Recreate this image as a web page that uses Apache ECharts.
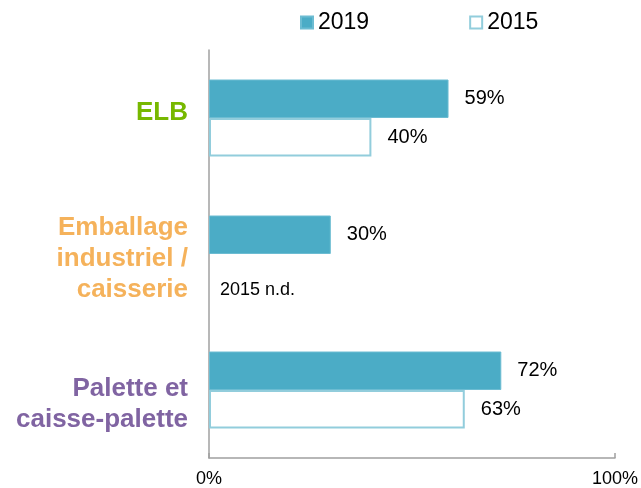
<!DOCTYPE html>
<html><head><meta charset="utf-8">
<script src="https://cdn.jsdelivr.net/npm/echarts@6/dist/echarts.min.js"></script>
<style>html,body{margin:0;padding:0;background:#fff}#c{width:641px;height:488px}</style>
</head><body><div id="c"></div>
<script>
const categories = ['ELB', 'Emballage\nindustriel /\ncaisserie', 'Palette et\ncaisse-palette'];
const categoryColors = ['#77b800', '#f5b25b', '#8064a2'];
const values2019 = [59, 30, 72];
const values2015 = [40, null, 63];
const naText = '2015 n.d.';
const xTicks = [0, 100];

const chart = echarts.init(document.getElementById('c'), null, {renderer: 'canvas'});
const FONT = 'Liberation Sans, Arial, sans-serif';

// per-category vertical nudge (px) of the label block
const nudges = [-5, 5, 14];
const rich = {};
categories.forEach((c, i) => {
  rich['t' + i] = {color: categoryColors[i], fontSize: 26, fontWeight: 'bold', fontFamily: FONT,
    lineHeight: 31, align: 'right'};
  rich['s' + i] = {fontSize: 1, lineHeight: Math.abs(nudges[i]) * 2, align: 'right'};
});

const data2015 = values2015.map(v => v === null
  ? {value: 0, itemStyle: {borderWidth: 0, color: 'rgba(0,0,0,0)'},
     label: {show: true, formatter: naText, fontSize: 18, distance: 11, offset: [0, 17]}}
  : v);

chart.setOption({
  animation: false,
  legend: {
    top: 6, left: 295,
    itemWidth: 12, itemHeight: 12, itemGap: 100,
    icon: 'rect',
    textStyle: {fontSize: 23, color: '#000', fontFamily: FONT},
    data: ['2019', '2015']
  },
  grid: {left: 209, right: 24, top: 50, bottom: 30, containLabel: false},
  xAxis: {
    type: 'value', min: 0, max: 100, interval: 100,
    axisLine: {show: true, lineStyle: {color: '#a0a0a0', width: 1.5}},
    axisTick: {show: true, inside: true, length: 5, lineStyle: {color: '#a0a0a0', width: 1.5}},
    splitLine: {show: false},
    axisLabel: {
      fontSize: 18, color: '#000', fontFamily: FONT, margin: 12,
      formatter: v => xTicks.includes(v) ? v + '%' : ''
    }
  },
  yAxis: {
    type: 'category', inverse: true, data: categories,
    axisLine: {show: true, lineStyle: {color: '#a0a0a0', width: 1.5}},
    axisTick: {show: false},
    axisLabel: {
      margin: 21, align: 'right',
      formatter: (v, idx) => {
        const lines = v.split('\n').map(l => '{t' + idx + '|' + l + '}');
        const spacer = '{s' + idx + '| }';
        if (nudges[idx] > 0) lines.unshift(spacer);
        else if (nudges[idx] < 0) lines.push(spacer);
        return lines.join('\n');
      },
      rich: rich
    }
  },
  series: [
    {
      name: '2019', type: 'bar', data: values2019,
      barWidth: 38.5, barGap: '0%',
      itemStyle: {color: '#4bacc6', borderColor: '#6cbcd2', borderWidth: 1},
      label: {show: true, position: 'right', distance: 16, fontSize: 20, color: '#000',
        fontFamily: FONT, formatter: p => p.value + '%'}
    },
    {
      name: '2015', type: 'bar', data: data2015,
      barWidth: 38.5, barGap: '0%',
      itemStyle: {color: '#ffffff', borderColor: '#92cddc', borderWidth: 2},
      label: {show: true, position: 'right', distance: 16, fontSize: 20, color: '#000',
        fontFamily: FONT, formatter: p => p.value + '%'}
    }
  ]
});
</script></body></html>
